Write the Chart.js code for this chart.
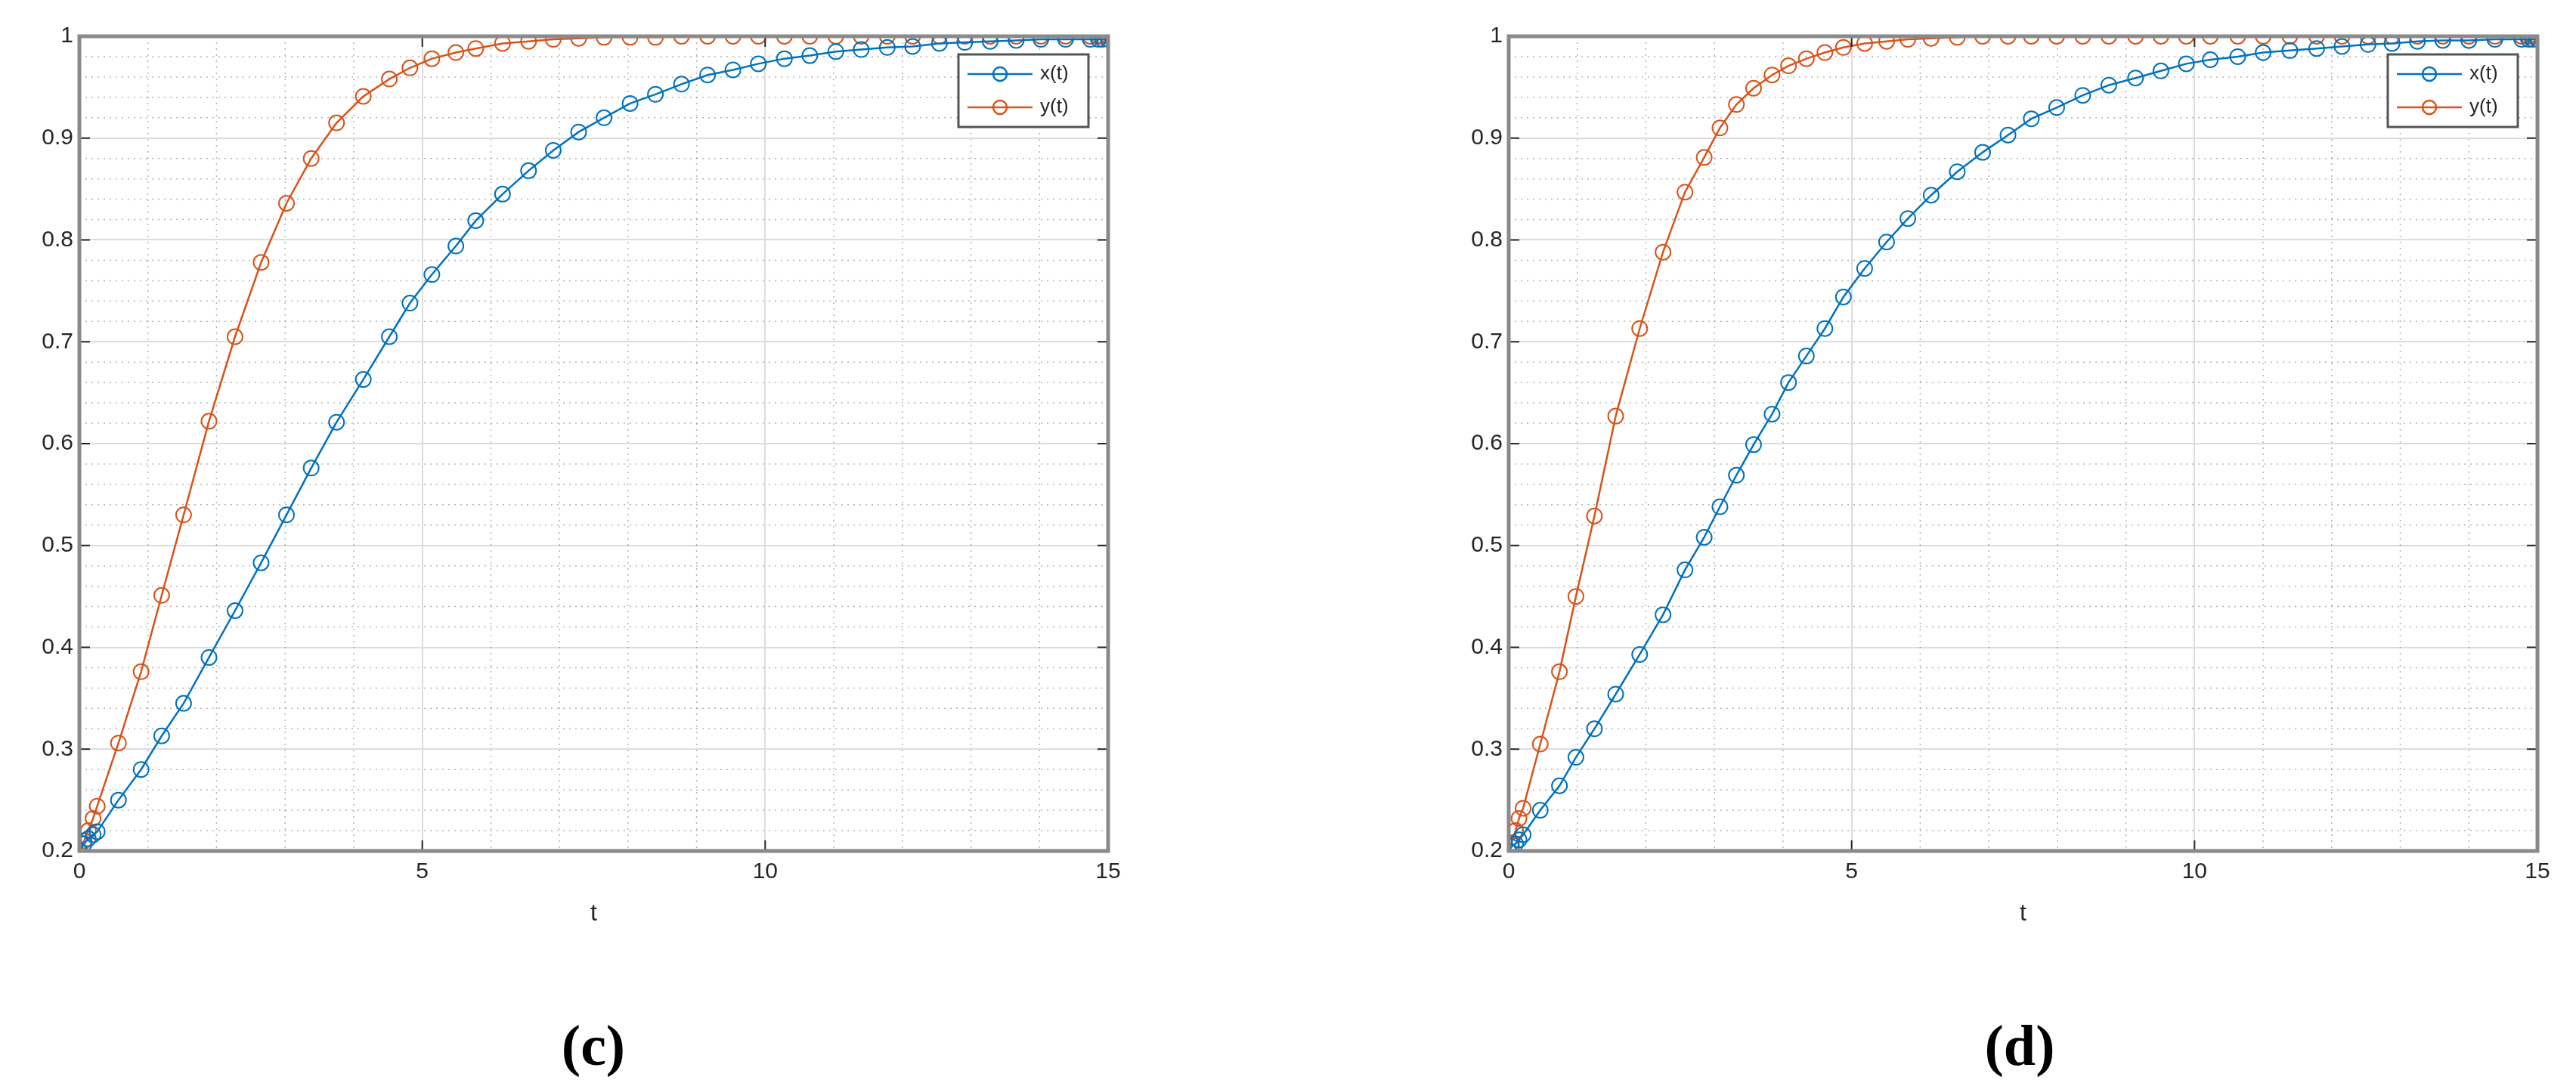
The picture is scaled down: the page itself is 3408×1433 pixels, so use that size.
<!DOCTYPE html>
<html>
<head>
<meta charset="utf-8">
<script src="https://cdn.jsdelivr.net/npm/chart.js@4"></script>
<style>
  body { margin: 0; background: #fff; width: 3408px; height: 1433px; position: relative; overflow: hidden; }
  .box { position: absolute; top: 0; width: 1500px; height: 1228px; }
  .cap { position: absolute; top: 1340px; font: bold 76px "Liberation Serif", serif; color: #000; transform: translateX(-50%); }
</style>
</head>
<body>
<div class="box" style="left:0"><canvas id="chartC"></canvas></div>
<div class="box" style="left:1891px"><canvas id="chartD"></canvas></div>
<div class="cap" style="left:785px">(<span>c</span>)</div>
<div class="cap" style="left:2672px">(<span>d</span>)</div>
<script>
// ## data ################################################################
const tC = [0, 0.07, 0.13, 0.2, 0.26, 0.57, 0.90, 1.20, 1.52, 1.89, 2.27, 2.65, 3.02, 3.38, 3.75,
  4.14, 4.52, 4.82, 5.14, 5.49, 5.78, 6.17, 6.55, 6.91, 7.28, 7.65, 8.03, 8.40, 8.78, 9.16, 9.53,
  9.90, 10.28, 10.65, 11.03, 11.40, 11.78, 12.15, 12.54, 12.91, 13.28, 13.66, 14.02, 14.38, 14.74,
  14.86, 14.92, 15];
const xC = [0.2, 0.207, 0.212, 0.216, 0.219, 0.250, 0.280, 0.313, 0.345, 0.390, 0.436, 0.483, 0.530,
  0.576, 0.621, 0.663, 0.705, 0.738, 0.766, 0.794, 0.819, 0.845, 0.868, 0.888, 0.906, 0.920, 0.934,
  0.943, 0.953, 0.962, 0.967, 0.973, 0.978, 0.981, 0.985, 0.987, 0.989, 0.990, 0.993, 0.994, 0.995,
  0.996, 0.997, 0.997, 0.997, 0.997, 0.997, 0.997];
const yC = [0.2, 0.21, 0.22, 0.232, 0.244, 0.306, 0.376, 0.451, 0.530, 0.622, 0.705, 0.778, 0.836,
  0.880, 0.915, 0.941, 0.958, 0.969, 0.978, 0.984, 0.988, 0.993, 0.995, 0.997, 0.998, 0.999, 0.999,
  0.999, 1, 1, 1, 1, 1, 1, 1, 1, 1, 1, 1, 1, 1, 1, 1, 1, 1, 1, 1, 1];

const tD = [0, 0.04, 0.1, 0.15, 0.21, 0.46, 0.74, 0.98, 1.25, 1.56, 1.91, 2.25, 2.57, 2.85, 3.08,
  3.32, 3.57, 3.84, 4.08, 4.34, 4.61, 4.88, 5.19, 5.51, 5.82, 6.16, 6.54, 6.91, 7.28, 7.62, 7.99,
  8.37, 8.75, 9.14, 9.51, 9.88, 10.23, 10.63, 11.0, 11.39, 11.78, 12.15, 12.53, 12.88, 13.25, 13.62,
  14.0, 14.38, 14.77, 14.87, 14.93, 15];
const xD = [0.2, 0.204, 0.207, 0.211, 0.216, 0.240, 0.264, 0.292, 0.320, 0.354, 0.393, 0.432, 0.476,
  0.508, 0.538, 0.569, 0.599, 0.629, 0.660, 0.686, 0.713, 0.744, 0.772, 0.798, 0.821, 0.844, 0.867,
  0.886, 0.903, 0.919, 0.930, 0.942, 0.952, 0.959, 0.966, 0.973, 0.977, 0.980, 0.984, 0.986, 0.988,
  0.990, 0.992, 0.993, 0.995, 0.996, 0.996, 0.997, 0.997, 0.997, 0.997, 0.997];
const yD = [0.2, 0.208, 0.22, 0.232, 0.242, 0.305, 0.376, 0.450, 0.529, 0.627, 0.713, 0.788, 0.847,
  0.881, 0.910, 0.933, 0.949, 0.962, 0.971, 0.978, 0.984, 0.989, 0.993, 0.995, 0.997, 0.998, 0.999,
  1, 1, 1, 1, 1, 1, 1, 1, 1, 1, 1, 1, 1, 1, 1, 1, 1, 1, 1, 1, 1, 1, 1, 1, 1];

const seriesNames = ['x(t)', 'y(t)'];
const seriesColors = ['#0072BD', '#D95319'];
const xTicks = [0, 5, 10, 15];
const yTicks = [0.2, 0.3, 0.4, 0.5, 0.6, 0.7, 0.8, 0.9, 1];

const FONT = '"Liberation Sans", Arial, sans-serif';

// ## helpers ###########################################################
function pts(t, v) { return t.map((ti, i) => ({ x: ti, y: v[i] })); }

// dotted minor grid, box frame and matlab-style legend
const matlabDeco = {
  id: 'matlabDeco',
  beforeDatasetsDraw(chart) {
    const { ctx, chartArea: a, scales: { x, y } } = chart;
    ctx.save();
    ctx.strokeStyle = 'rgba(120,120,120,0.55)';
    ctx.lineWidth = 1.5;
    ctx.setLineDash([2, 6]);
    for (let v = 1; v < 15; v++) {
      if (v % 5 === 0) continue;
      const px = x.getPixelForValue(v);
      ctx.beginPath(); ctx.moveTo(px, a.top); ctx.lineTo(px, a.bottom); ctx.stroke();
    }
    for (let k = 11; k < 50; k++) {
      if (k % 5 === 0) continue;
      const py = y.getPixelForValue(k / 50);
      ctx.beginPath(); ctx.moveTo(a.left, py); ctx.lineTo(a.right, py); ctx.stroke();
    }
    ctx.restore();
  },
  afterDatasetsDraw(chart) {
    const { ctx, chartArea: a, scales: { x, y } } = chart;
    ctx.save();
    // inward tick marks
    ctx.strokeStyle = '#262626';
    ctx.lineWidth = 2;
    xTicks.forEach(v => {
      const px = x.getPixelForValue(v);
      ctx.beginPath(); ctx.moveTo(px, a.bottom); ctx.lineTo(px, a.bottom - 14); ctx.stroke();
      ctx.beginPath(); ctx.moveTo(px, a.top); ctx.lineTo(px, a.top + 14); ctx.stroke();
    });
    yTicks.forEach(v => {
      const py = y.getPixelForValue(v);
      ctx.beginPath(); ctx.moveTo(a.left, py); ctx.lineTo(a.left + 14, py); ctx.stroke();
      ctx.beginPath(); ctx.moveTo(a.right, py); ctx.lineTo(a.right - 14, py); ctx.stroke();
    });
    ctx.strokeStyle = '#8a8a8a';
    ctx.lineWidth = 5;
    ctx.strokeRect(a.left, a.top, a.right - a.left, a.bottom - a.top);
    // legend
    const w = 172, h = 96, lx = a.right - w - 26, ly = a.top + 24;
    ctx.fillStyle = '#fff';
    ctx.fillRect(lx, ly, w, h);
    ctx.strokeStyle = '#555';
    ctx.lineWidth = 3;
    ctx.strokeRect(lx, ly, w, h);
    ctx.font = '26px ' + FONT;
    ctx.textBaseline = 'middle';
    seriesNames.forEach((n, i) => {
      const cy = ly + 26 + i * 44;
      ctx.strokeStyle = seriesColors[i];
      ctx.lineWidth = 2.5;
      ctx.beginPath(); ctx.moveTo(lx + 12, cy); ctx.lineTo(lx + 98, cy); ctx.stroke();
      ctx.beginPath(); ctx.arc(lx + 55, cy, 9, 0, Math.PI * 2); ctx.stroke();
      ctx.fillStyle = '#262626';
      ctx.fillText(n, lx + 108, cy);
    });
    ctx.restore();
  }
};

function makePlot(id, t, xs, ys) {
  const ds = [xs, ys].map((v, i) => ({
    label: seriesNames[i],
    data: pts(t, v),
    showLine: true,
    borderColor: seriesColors[i],
    borderWidth: 2.5,
    pointRadius: 10,
    pointBorderWidth: 2,
    pointBackgroundColor: 'rgba(0,0,0,0)',
    pointBorderColor: seriesColors[i]
  }));
  return new Chart(document.getElementById(id), {
    type: 'scatter',
    data: { datasets: ds },
    options: {
      responsive: true,
      maintainAspectRatio: false,
      animation: false,
      layout: { padding: { top: 48, right: 34 } },
      plugins: { legend: { display: false }, tooltip: { enabled: false } },
      scales: {
        x: {
          min: 0, max: 15,
          afterBuildTicks: s => { s.ticks = xTicks.map(v => ({ value: v })); },
          ticks: { font: { size: 30, family: FONT }, color: '#262626', padding: 10, maxRotation: 0 },
          grid: { color: '#dcdcdc', lineWidth: 2, drawTicks: false },
          border: { display: false },
          title: { display: true, text: 't', font: { size: 32, family: FONT }, color: '#262626', padding: { top: 14, bottom: 0 } },
          afterFit: s => { s.height = 102; }
        },
        y: {
          min: 0.2, max: 1,
          afterBuildTicks: s => { s.ticks = yTicks.map(v => ({ value: v })); },
          ticks: { font: { size: 30, family: FONT }, color: '#262626', padding: 8, callback: v => String(+v.toFixed(1)) },
          grid: { color: '#dcdcdc', lineWidth: 2, drawTicks: false },
          border: { display: false },
          afterFit: s => { s.width = 105; }
        }
      }
    },
    plugins: [matlabDeco]
  });
}

makePlot('chartC', tC, xC, yC);
makePlot('chartD', tD, xD, yD);
</script>
</body>
</html>
